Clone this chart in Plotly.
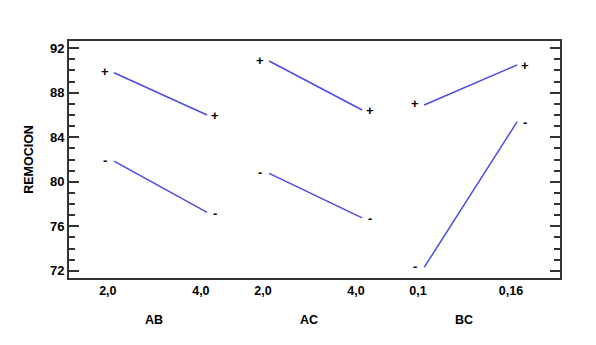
import plotly.graph_objects as go

# Data
factors = ["AB", "AC", "BC"]
level_labels = [["2,0", "4,0"], ["2,0", "4,0"], ["0,1", "0,16"]]
plus_values = [[89.8, 86.0], [90.85, 86.45], [86.9, 90.5]]
minus_values = [[81.85, 77.25], [80.75, 76.75], [72.3, 85.4]]

# layout positions (x units)
group_starts = [0.0, 2.5, 5.0]
width = 1.5
label_shift = -0.1

line_color = "#4b4be6"
font_family = "Liberation Sans, Arial, sans-serif"

fig = go.Figure()
tickvals, ticktext = [], []
for i, f in enumerate(factors):
    x0 = group_starts[i]
    x1 = x0 + width
    for vals, sym in ((plus_values[i], "+"), (minus_values[i], "-")):
        fig.add_trace(go.Scatter(x=[x0, x1], y=vals, mode="lines",
                                 line=dict(color=line_color, width=1.5),
                                 showlegend=False, hoverinfo="skip"))
        fig.add_annotation(x=x0, y=vals[0], text="<b>%s</b>" % sym, showarrow=False,
                           xanchor="center", yanchor="middle", xshift=-9, yshift=1,
                           font=dict(family=font_family, size=13, color="black"))
        fig.add_annotation(x=x1, y=vals[1], text="<b>%s</b>" % sym, showarrow=False,
                           xanchor="center", yanchor="middle", xshift=8, yshift=-1,
                           font=dict(family=font_family, size=13, color="black"))
    tickvals += [x0 + label_shift, x1 + label_shift]
    ticktext += ["<b>%s</b>" % t for t in level_labels[i]]
    fig.add_annotation(x=(x0 + x1) / 2 + label_shift, y=-0.177, xref="x", yref="paper",
                       text="<b>%s</b>" % f, showarrow=False, yanchor="middle",
                       font=dict(family=font_family, size=12.5, color="black"))

fig.update_layout(
    width=596, height=345,
    margin=dict(l=61, r=44, t=33, b=75),
    paper_bgcolor="white", plot_bgcolor="white",
    font=dict(family=font_family, color="black"),
)
fig.update_xaxes(range=[-0.726, 7.19], tickvals=tickvals, ticktext=ticktext,
                 showgrid=False, zeroline=False, showline=True, mirror=True,
                 linecolor="#333333", linewidth=2, ticks="", automargin=False,
                 tickfont=dict(family=font_family, size=12.5, color="black"))
fig.update_yaxes(range=[71.35, 92.65], tickvals=[72, 76, 80, 84, 88, 92],
                 ticktext=["<b>%d</b>" % v for v in [72, 76, 80, 84, 88, 92]],
                 showgrid=False, zeroline=False, showline=True, mirror="ticks",
                 linecolor="#333333", linewidth=2, ticks="inside", ticklen=10,
                 tickwidth=1.5, tickcolor="#333333", automargin=False,
                 minor=dict(dtick=1, tick0=72, ticks="inside", ticklen=6, tickwidth=1.5,
                            tickcolor="#333333", showgrid=False),
                 tickfont=dict(family=font_family, size=13, color="black"),
                 title=dict(text="<b>REMOCION</b>", standoff=14,
                            font=dict(family=font_family, size=12.5, color="black")))

fig.write_html("out.html")
